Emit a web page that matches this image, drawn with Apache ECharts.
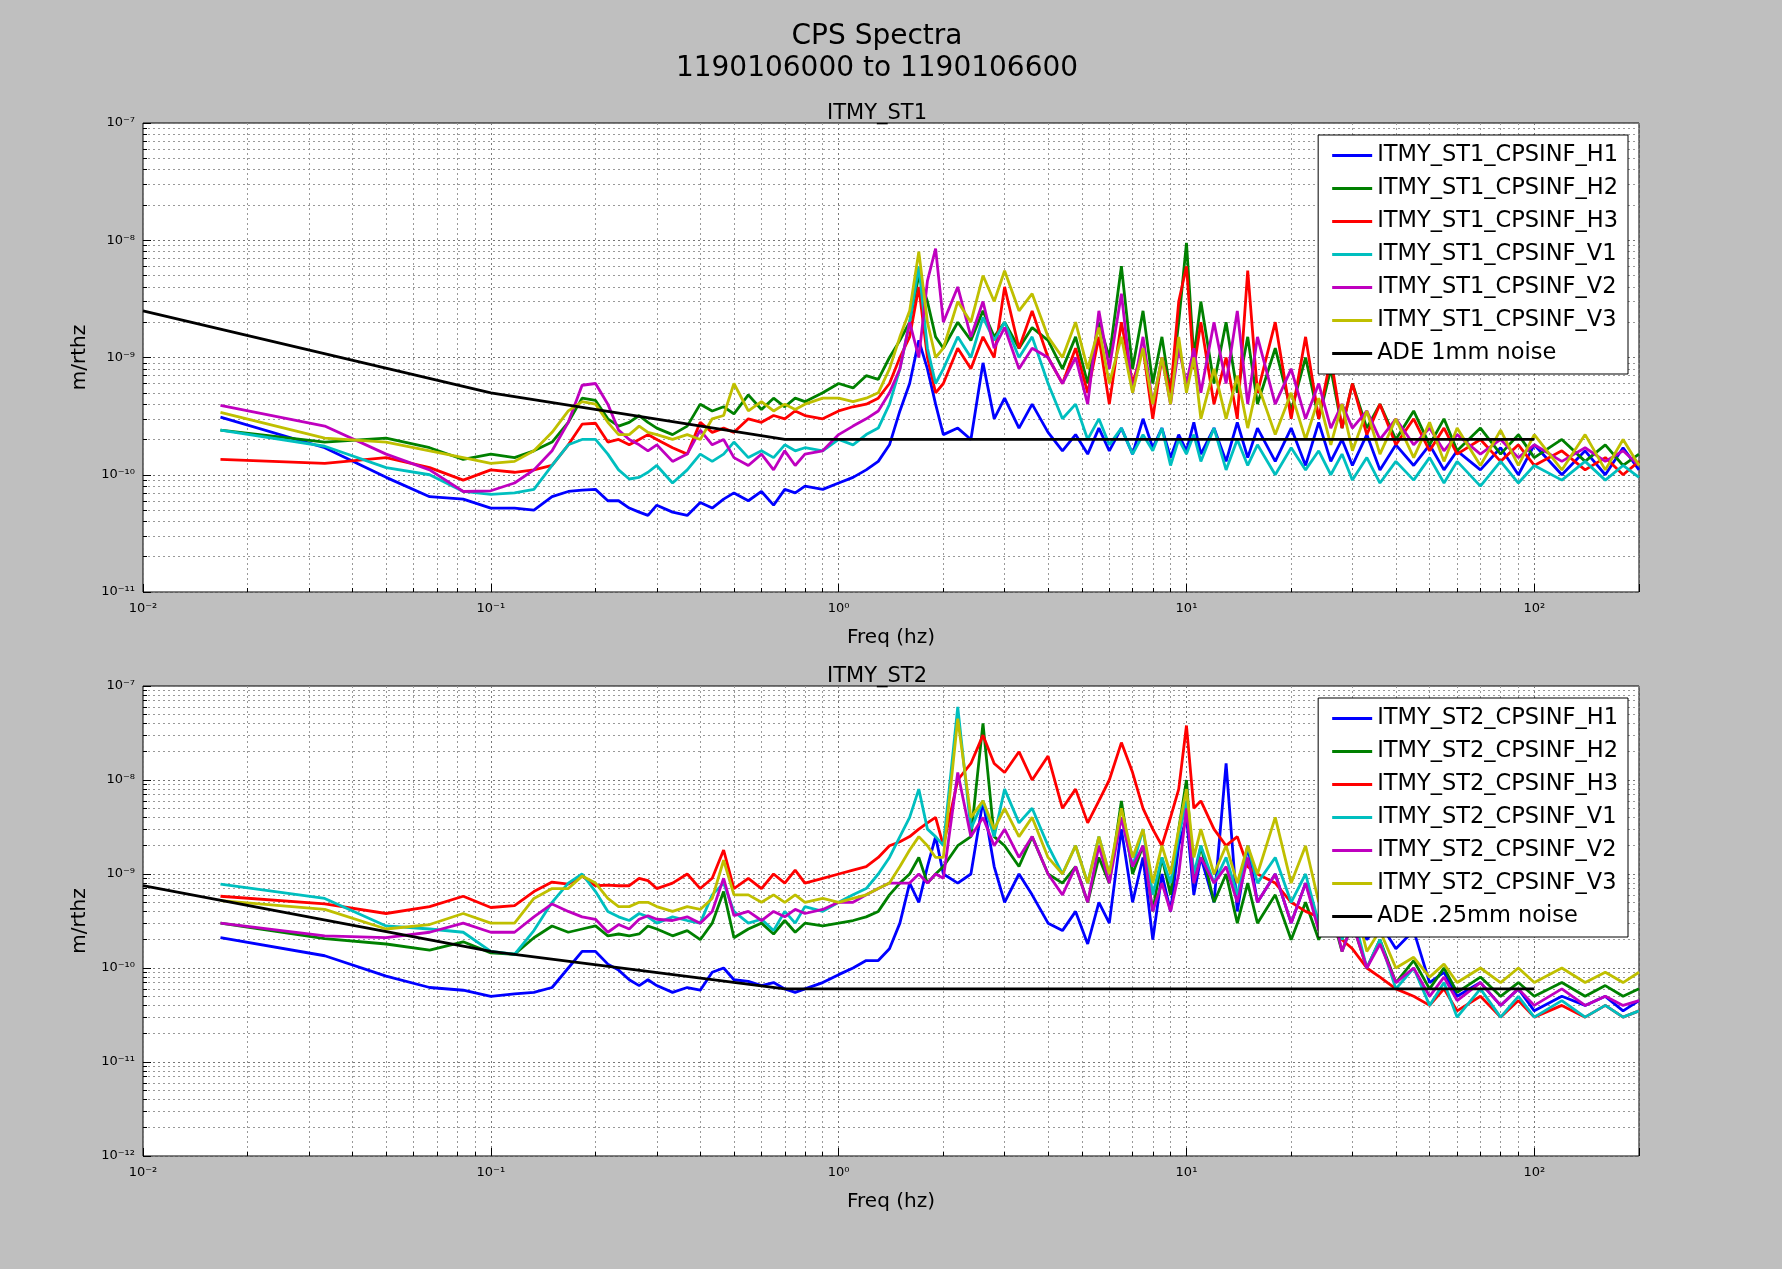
<!DOCTYPE html>
<html><head><meta charset="utf-8">
<script src="https://cdn.jsdelivr.net/npm/echarts@6/dist/echarts.min.js"></script>
<style>html,body{margin:0;padding:0;background:#bfbfbf}#c{width:1782px;height:1269px}</style>
</head><body><div id="c"></div>
<script>
// frequency grid (Hz)
const freq = [0.0167,0.0333,0.05,0.0667,0.0833,0.1,0.117,0.133,0.15,0.167,0.183,0.2,0.217,0.233,0.25,0.267,0.283,0.3,0.333,0.367,0.4,0.433,0.467,0.5,
0.55,0.6,0.65,0.7,0.75,0.8,0.9,1.0,1.1,1.2,1.3,1.4,1.5,1.6,1.7,1.8,1.9,2.0,2.2,2.4,2.6,2.8,3.0,3.3,3.6,4.0,
4.4,4.8,5.2,5.6,6.0,6.5,7,7.5,8,8.5,9,9.5,10,10.5,11,12,13,14,15,16,18,20,22,24,26,28,30,33,36,40,45,50,55,60,70,80,90,100,120,140,160,180,200];
// values in units of 1e-10 m/rthz
const UNIT = 1e-10;
const st1_H1 = [3.1,1.7,0.95,0.65,0.62,0.52,0.52,0.5,0.65,0.72,0.74,0.75,0.6,0.6,0.52,0.48,0.45,0.55,0.48,0.45,0.58,0.52,0.62,0.7,
0.6,0.72,0.55,0.75,0.7,0.8,0.75,0.85,0.95,1.1,1.3,1.8,3.5,6,14,8,4,2.2,2.5,2.0,9,3,4.5,2.5,4,2.3,
1.6,2.2,1.5,2.5,1.6,2.5,1.5,3,1.7,2.5,1.4,2.2,1.6,2.8,1.5,2.5,1.3,2.8,1.4,2.5,1.3,2.5,1.2,2.8,1.3,2.0,1.2,2.2,1.1,1.8,1.2,1.8,1.1,1.6,1.1,1.7,1.0,1.8,1.0,1.6,1.0,1.7,1.1];
const st1_H2 = [2.4,1.9,2.05,1.7,1.35,1.5,1.4,1.6,1.9,2.8,4.5,4.3,3.0,2.6,2.8,3.2,2.8,2.5,2.2,2.6,4.0,3.5,3.8,3.3,
4.8,3.6,4.5,3.8,4.5,4.2,5.0,6.0,5.5,7.0,6.5,10,14,20,50,30,15,12,20,14,25,15,20,12,18,14,
8,15,6,20,10,60,8,25,6,15,5,20,95,10,30,6,20,5,15,4,12,3.5,10,3,8,2.5,6,2.5,4,2.0,3.5,1.8,3,1.6,2.5,1.5,2.2,1.4,2.0,1.3,1.8,1.2,1.5];
const st1_H3 = [1.35,1.25,1.4,1.15,0.9,1.1,1.05,1.1,1.2,1.8,2.7,2.75,1.9,2.0,1.8,2.0,2.2,2.0,1.7,1.5,2.8,2.3,2.5,2.3,
3.0,2.8,3.2,3.0,3.5,3.2,3.0,3.5,3.8,4.0,4.5,6.0,10,15,40,10,5,6,12,8,15,10,40,12,25,10,
6,12,5,15,4,20,6,12,3,10,5,30,60,8,20,4,10,3,55,5,20,3,15,3,10,2.5,6,2.2,4,1.8,3,1.6,2.5,1.5,2,1.3,1.8,1.2,1.6,1.1,1.4,1.0,1.3];
const st1_V1 = [2.4,1.75,1.15,1.0,0.72,0.68,0.7,0.75,1.2,1.8,2.0,2.0,1.5,1.1,0.92,0.95,1.05,1.2,0.85,1.1,1.5,1.3,1.5,1.9,
1.4,1.6,1.4,1.8,1.6,1.7,1.6,2.0,1.8,2.2,2.5,4.0,8,20,60,12,6,8,15,10,22,14,20,10,15,6,
3,4,2.0,3,1.8,2.5,1.5,2.2,1.6,2.5,1.2,2.0,1.5,2.2,1.3,2.5,1.1,2.0,1.2,1.8,1.0,1.7,1.1,1.6,1.0,1.5,0.9,1.4,0.85,1.3,0.9,1.4,0.85,1.3,0.8,1.3,0.85,1.2,0.9,1.3,0.9,1.2,0.95];
const st1_V2 = [3.9,2.6,1.5,1.1,0.72,0.73,0.85,1.1,1.6,2.8,5.8,6.0,4.0,2.4,2.0,1.8,1.6,1.8,1.3,1.5,2.4,1.8,2.0,1.4,
1.2,1.5,1.1,1.6,1.2,1.5,1.6,2.2,2.6,3.0,3.5,5,8,20,10,45,85,20,40,15,30,12,18,8,12,10,
6,10,4,25,8,35,5,15,4,10,4,12,6,12,5,20,6,25,4,15,4,8,3,6,2.5,4,2.5,3.5,2,3,1.8,2.5,1.6,2.2,1.5,2,1.4,1.8,1.3,1.7,1.3,1.6,1.2];
const st1_V3 = [3.4,2.05,1.9,1.6,1.4,1.25,1.3,1.6,2.3,3.5,4.2,4.0,2.8,2.2,2.2,2.6,2.3,2.2,2.0,2.2,2.0,3.0,3.2,6.0,
3.5,4.2,3.5,4.0,3.6,4.0,4.5,4.5,4.2,4.5,5,8,15,25,80,20,10,12,30,20,50,30,55,25,35,15,
10,20,8,18,6,15,5,12,4,10,4,15,5,10,3,8,3,7,2.5,6,2.2,5,2,4.5,1.8,4,1.6,3.5,1.5,3,1.4,2.8,1.3,2.5,1.2,2.4,1.2,2.2,1.1,2.2,1.1,2.0,1.2];
const st2_H1 = [2.1,1.35,0.82,0.62,0.58,0.5,0.53,0.55,0.62,1.0,1.5,1.5,1.1,0.95,0.75,0.65,0.75,0.65,0.55,0.62,0.58,0.9,1.0,0.75,
0.72,0.65,0.7,0.6,0.55,0.6,0.7,0.85,1.0,1.2,1.2,1.6,3,8,5,12,25,10,8,10,60,12,5,10,6,3,
2.5,4,1.8,5,3,30,5,15,2,10,4,20,40,6,15,5,150,4,20,5,10,3,8,3,6,2.5,5,2,3,1.6,2.5,0.7,0.9,0.5,0.7,0.4,0.6,0.35,0.5,0.4,0.5,0.35,0.45];
const st2_H2 = [3.0,2.05,1.8,1.55,1.9,1.45,1.4,2.1,2.8,2.4,2.6,2.8,2.2,2.3,2.2,2.3,2.8,2.6,2.2,2.5,2.0,3.0,6.5,2.1,
2.6,3.0,2.3,3.2,2.4,3.0,2.8,3.0,3.2,3.5,4,6,8,10,15,8,10,12,20,25,400,25,20,12,25,10,
8,12,5,15,8,60,10,20,4,15,6,30,100,8,20,5,10,3,8,3,6,2,5,2,4,1.5,3,1,2,0.7,1.2,0.6,1.0,0.55,0.8,0.5,0.7,0.5,0.7,0.5,0.65,0.5,0.6];
const st2_H3 = [5.8,4.8,3.8,4.5,5.8,4.4,4.6,6.5,8.2,7.8,9.5,7.5,7.6,7.5,7.5,9.0,8.5,7.0,8.0,10,7,9,18,7,
9,7,10,8,11,8,9,10,11,12,15,20,22,25,30,35,40,20,100,150,300,150,120,200,100,180,
50,80,35,60,100,250,120,50,30,20,40,80,380,50,60,30,20,25,12,10,8,5,4,3.5,2.5,2,1.6,1,0.8,0.6,0.5,0.4,0.6,0.35,0.5,0.3,0.45,0.3,0.4,0.3,0.4,0.3,0.35];
const st2_V1 = [7.8,5.5,2.8,2.6,2.4,1.5,1.4,2.5,5.0,8,10,6.5,4.0,3.5,3.2,3.8,3.5,3.0,3.5,3.2,3.0,6.0,8.0,4.0,
3.0,3.3,2.5,4.0,3.0,4.5,4.0,5.0,6,7,10,15,25,40,80,30,25,20,600,30,60,25,80,35,50,20,
10,20,8,25,10,40,12,30,6,15,8,25,60,10,20,8,15,6,20,8,15,5,10,3,6,2,4,1,2,0.6,1,0.4,0.7,0.3,0.6,0.3,0.5,0.3,0.45,0.3,0.4,0.3,0.35];
const st2_V2 = [3.0,2.2,2.1,2.4,3.0,2.4,2.4,3.5,4.8,4.0,3.5,3.3,2.4,2.9,2.6,3.3,3.6,3.3,3.2,3.5,3.0,4.0,9,3.6,
4.0,3.2,4.0,3.5,4.2,3.8,4.2,5,5,6,7,8,8,8,10,8,10,9,120,25,40,20,30,15,25,10,
6,12,5,20,8,40,12,20,4,8,4,10,50,8,15,8,12,5,15,5,10,3,8,2.5,5,1.5,3,1,1.8,0.7,1.0,0.5,0.8,0.45,0.7,0.4,0.6,0.4,0.6,0.4,0.5,0.4,0.45];
const st2_V3 = [5.2,4.2,2.6,2.9,3.8,3.0,3.0,5.5,7,7,9.5,8,5.5,4.5,4.5,5.0,5.0,4.5,4.0,4.5,4.2,5.5,14,6,
6,5,6,5,6,5,5.5,5,5.5,6,7,8,12,18,25,20,15,15,450,40,60,30,50,25,40,15,
10,20,8,25,10,50,15,30,8,20,10,30,80,15,30,10,20,8,20,10,40,8,20,5,12,3,6,1.5,2.5,1,1.3,0.8,1.1,0.7,1.0,0.7,1.0,0.7,1.0,0.7,0.9,0.7,0.9];
const adeFreq = [0.01,0.1,0.7,100];
const ade1mm = [25,5,2,2];
const ade025mm = [7.5,1.5,0.6,0.6];

const names1 = ['ITMY_ST1_CPSINF_H1','ITMY_ST1_CPSINF_H2','ITMY_ST1_CPSINF_H3','ITMY_ST1_CPSINF_V1','ITMY_ST1_CPSINF_V2','ITMY_ST1_CPSINF_V3','ADE 1mm noise'];
const names2 = ['ITMY_ST2_CPSINF_H1','ITMY_ST2_CPSINF_H2','ITMY_ST2_CPSINF_H3','ITMY_ST2_CPSINF_V1','ITMY_ST2_CPSINF_V2','ITMY_ST2_CPSINF_V3','ADE .25mm noise'];
const colors = ['#0000ff','#008000','#ff0000','#00bfbf','#bf00bf','#bfbf00','#000000'];
const vals1 = [st1_H1,st1_H2,st1_H3,st1_V1,st1_V2,st1_V3];
const vals2 = [st2_H1,st2_H2,st2_H3,st2_V1,st2_V2,st2_V3];

const sup = {'-':'⁻','0':'⁰','1':'¹','2':'²','3':'³','4':'⁴','5':'⁵','6':'⁶','7':'⁷','8':'⁸','9':'⁹'};
function pow10(v){const e=Math.log10(v);const r=Math.round(e);if(Math.abs(e-r)>1e-6)return '';return '10'+String(r).split('').map(c=>sup[c]).join('');}

const L=143, W=1782-286;
const grids=[{left:L,width:W,top:123,height:469},{left:L,width:W,top:686,height:470}];
function xAx(i){return {type:'log',gridIndex:i,min:0.01,max:200,logBase:10,
 name:'Freq (hz)',nameLocation:'middle',nameGap:36,nameTextStyle:{fontSize:20,color:'#000',fontFamily:'DejaVu Sans'},
 axisLine:{show:false},axisTick:{inside:true,length:8,lineStyle:{color:'#000'}},
 minorTick:{show:true,splitNumber:9,length:4,lineStyle:{color:'#000'}},
 axisLabel:{formatter:pow10,color:'#000',fontSize:13,margin:10,fontFamily:'DejaVu Sans',showMaxLabel:false},
 splitLine:{show:true,lineStyle:{color:'#777',type:[2,3],width:1}},
 minorSplitLine:{show:true,lineStyle:{color:'#999',type:[2,3],width:1}}};}
function yAx(i,min){return {type:'log',gridIndex:i,min:min,max:1e-7,logBase:10,
 name:'m/rthz',nameLocation:'middle',nameGap:48,nameTextStyle:{fontSize:20,color:'#000',fontFamily:'DejaVu Sans'},
 axisLine:{show:false},axisTick:{inside:true,length:8,lineStyle:{color:'#000'}},
 minorTick:{show:true,splitNumber:9,length:4,lineStyle:{color:'#000'}},
 axisLabel:{formatter:pow10,color:'#000',fontSize:13,margin:8,fontFamily:'DejaVu Sans'},
 splitLine:{show:true,lineStyle:{color:'#777',type:[2,3],width:1}},
 minorSplitLine:{show:true,lineStyle:{color:'#999',type:[2,3],width:1}}};}

const series=[];
function add(names,vals,ade,gi){
 vals.forEach((v,k)=>series.push({name:names[k],type:'line',xAxisIndex:gi,yAxisIndex:gi,showSymbol:false,symbol:'none',
  lineStyle:{width:2.8,color:colors[k]},itemStyle:{color:colors[k]},animation:false,
  data:freq.map((f,j)=>[f,v[j]*UNIT])}));
 series.push({name:names[6],type:'line',xAxisIndex:gi,yAxisIndex:gi,showSymbol:false,symbol:'none',
  lineStyle:{width:2.8,color:'#000'},itemStyle:{color:'#000'},animation:false,
  data:adeFreq.map((f,j)=>[f,ade[j]*UNIT])});
}
add(names1,vals1,ade1mm,0);
add(names2,vals2,ade025mm,1);

function leg(names,top){return {data:names,orient:'vertical',right:1782-1628,top:top,backgroundColor:'#fff',borderColor:'#000',borderWidth:1,
 padding:[9,10,9,14],itemGap:10,itemWidth:40,itemHeight:3,icon:'rect',textStyle:{fontSize:22.5,color:'#000',fontFamily:'DejaVu Sans'},selectedMode:false};}

const chart=echarts.init(document.getElementById('c'));
chart.setOption({
 backgroundColor:'#bfbfbf',animation:false,
 title:[{text:'CPS Spectra\n1190106000 to 1190106600',left:872,top:16,textAlign:'center',
   textStyle:{fontSize:28,fontWeight:'normal',color:'#000',lineHeight:32,fontFamily:'DejaVu Sans'}},
  {text:'ITMY_ST1',left:872,top:98,textAlign:'center',textStyle:{fontSize:21,fontWeight:'normal',color:'#000',fontFamily:'DejaVu Sans'}},
  {text:'ITMY_ST2',left:872,top:661,textAlign:'center',textStyle:{fontSize:21,fontWeight:'normal',color:'#000',fontFamily:'DejaVu Sans'}}],
 grid:grids.map(g=>Object.assign({show:true,backgroundColor:'#fff',borderColor:'#000',borderWidth:1},g)),
 xAxis:[xAx(0),xAx(1)],
 yAxis:[yAx(0,1e-11),yAx(1,1e-12)],
 legend:[leg(names1,135),leg(names2,698)],
 series:series
});
</script></body></html>
